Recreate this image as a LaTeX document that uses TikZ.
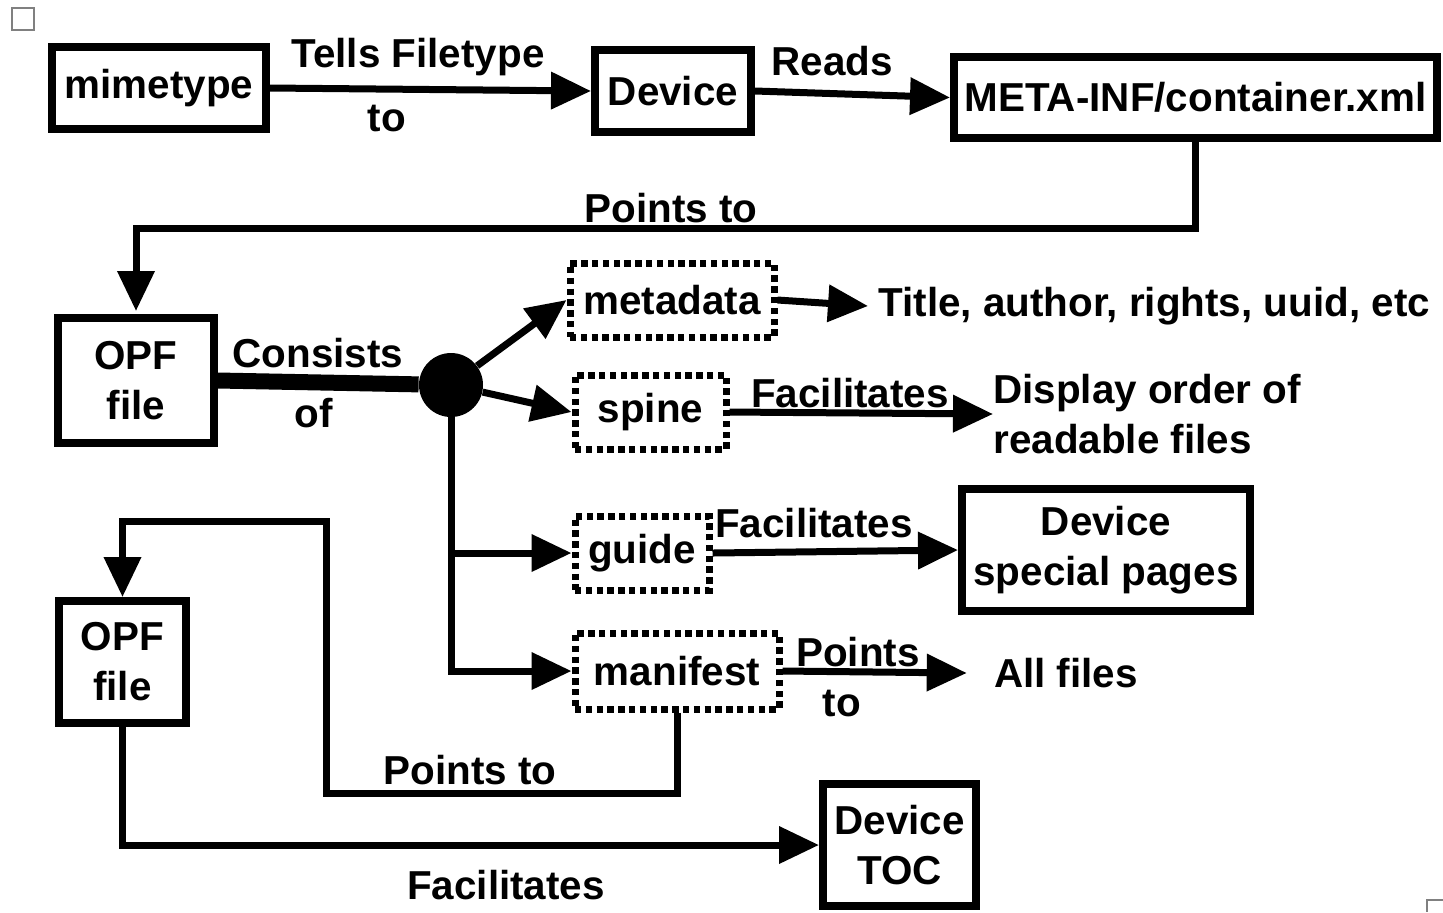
\documentclass[tikz,border=0pt]{standalone}
\usepackage{fontspec}
\setmainfont{Liberation Sans}
\usetikzlibrary{arrows.meta}

\tikzset{
  box/.style={rectangle, draw=black, line width=4pt, align=center, inner sep=0},
  dotbox/.style={rectangle, draw=black, line width=3.5pt, dash pattern=on 3.2pt off 2.2pt, align=center, inner sep=0},
  arr/.style={line width=3.5pt, -{Triangle[length=20pt, width=18pt]}},
  lbl/.style={inner sep=0, align=center},
}

\begin{document}
\begin{tikzpicture}[x=0.5pt, y=-0.5pt, font=\fontsize{20.2}{25}\selectfont\bfseries]
  \useasboundingbox (0,0) rectangle (1443,912);
  % page marks
  \draw[gray, line width=0.6pt] (12,8) rectangle (34,30);
  \draw[gray, line width=0.6pt] (1443,900) -- (1427,900) -- (1427,912);

% TOP ROW
  \node[box, minimum width=107pt, minimum height=41pt] (mime_box) at (159,88) {mimetype};
  \node[box, minimum width=78pt, minimum height=41pt] (device_box) at (673,91) {Device};
  \node[box, minimum width=241.5pt, minimum height=40.5pt] (container_box) at (1195.5,97.5) {META-INF/container.xml};

  \draw[arr] (mime_box.east) -- (device_box.west);
  \node[lbl] (tells_lbl) at (418,57) {Tells Filetype};
  \node[lbl] (to_lbl) at (387,119) {to};

  \draw[arr] (device_box.east) -- (container_box.west);
  \node[lbl] (reads_lbl) at (832,61) {Reads};

  \draw[arr] (container_box.south) -- ++(0,86) -| (136,311);
  \node[lbl] (points_lbl1) at (671,208) {Points to};

% OPF FILE AND ITS PARTS
  \node[box, minimum width=78pt, minimum height=62.5pt] (opf_1) at (136,380.5) {OPF\\file};
  \node[circle, fill=black, minimum size=32pt, inner sep=0] (hub) at (451,385) {};
  \draw[line width=8pt] (opf_1.east) -- (hub);
  \node[lbl] (consists_lbl) at (318,353) {Consists};
  \node[lbl] (of_lbl) at (314,413) {of};

  \node[dotbox, minimum width=102pt, minimum height=37pt] (metadata_box) at (672,300) {metadata};
  \node[dotbox, minimum width=75.5pt, minimum height=37pt] (spine_box) at (650.5,412) {spine};
  \node[dotbox, minimum width=67pt, minimum height=37pt] (guide_box) at (642,553) {guide};
  \node[dotbox, minimum width=102pt, minimum height=38pt] (manifest_box) at (677,671) {manifest};

  \draw[arr] (hub) -- (metadata_box.west);
  \draw[arr] (hub) -- (spine_box.west);
  \draw[arr] (hub.south) |- (guide_box.west);
  \draw[arr] (hub.south) |- (manifest_box.west);

% WHAT THE PARTS DO
  \node[lbl, anchor=west, inner sep=5pt] (title_txt) at (868,306) {Title, author, rights, uuid, etc};
  \draw[arr] (metadata_box.east) -- (title_txt.west);

  \node[lbl, anchor=west, align=left] (display_txt) at (993,414) {Display order of\\readable files};
  \draw[arr] (spine_box.east) -- (display_txt.west);
  \node[lbl] (fac_lbl1) at (850,393) {Facilitates};

  \node[box, minimum width=144pt, minimum height=61pt] (special_box) at (1106,550) {Device\\special pages};
  \draw[arr] (guide_box.east) -- (special_box.west);
  \node[lbl] (fac_lbl2) at (814,523) {Facilitates};

  \node[lbl] (allfiles_txt) at (1066,673) {All files};
  \draw[arr] (manifest_box.east) -- ([xshift=-13.5pt]allfiles_txt.west);
  \node[lbl] (points_lbl2) at (858,652) {Points};
  \node[lbl] (to_lbl2) at (842,703) {to};

% SECOND OPF FILE
  \node[box, minimum width=63.5pt, minimum height=61pt] (opf_2) at (122.5,662) {OPF\\file};
  \draw[arr] (manifest_box.south) -- ++(0,81) -| (326,521) -| (opf_2.north);
  \node[lbl] (points_lbl3) at (470,770) {Points to};

  \node[box, minimum width=76.5pt, minimum height=61pt] (toc_box) at (899.5,845) {Device\\TOC};
  \draw[arr] (opf_2.south) |- (toc_box.west);
  \node[lbl] (fac_lbl3) at (506,885) {Facilitates};
\end{tikzpicture}
\end{document}
